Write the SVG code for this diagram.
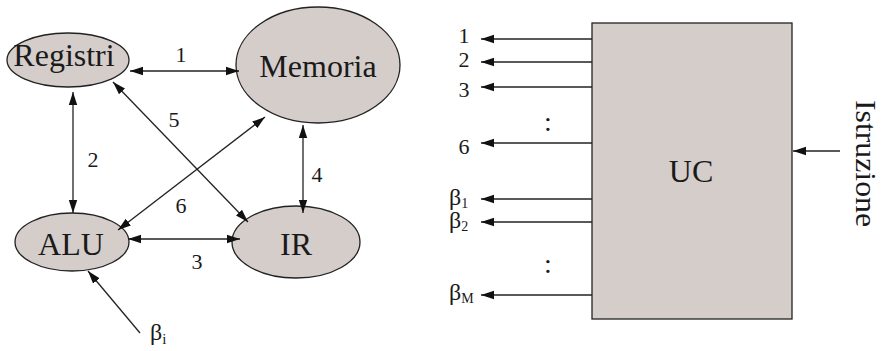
<svg xmlns="http://www.w3.org/2000/svg" width="881" height="351" viewBox="0 0 881 351">
<style>
.n{fill:#d4cdca;stroke:#222;stroke-width:1.3}
text{font-family:'Liberation Serif','Times New Roman',Tinos,Times,serif;fill:#1a1a1a}
.big{font-size:32px}
.lab{font-size:22px}
.c{stroke:#222;stroke-width:1.3;fill:none}
</style>
<defs>
<marker id="a" markerUnits="userSpaceOnUse" markerWidth="14" markerHeight="10" refX="13" refY="5" orient="auto-start-reverse">
<path d="M0,0.8 L13,5 L0,9.2 z" fill="#111"/>
</marker>
</defs>
<rect width="881" height="351" fill="#fff"/>
<g id="registri"><ellipse class="n" cx="68" cy="60" rx="61" ry="27"/><text class="big" x="64" y="66" text-anchor="middle" font-size="29.5" font-family="Liberation Serif, serif">Registri</text></g>
<g id="memoria"><ellipse class="n" cx="318" cy="65" rx="82" ry="58"/><text class="big" x="318" y="77" text-anchor="middle" font-size="31.5" font-family="Liberation Serif, serif">Memoria</text></g>
<g id="alu"><ellipse class="n" cx="72" cy="242" rx="57" ry="29"/><text class="big" x="71" y="255" text-anchor="middle" font-family="Liberation Serif, serif">ALU</text></g>
<g id="ir"><ellipse class="n" cx="296" cy="242" rx="64" ry="36"/><text class="big" x="296" y="255" text-anchor="middle" font-family="Liberation Serif, serif">IR</text></g>
<g id="uc"><rect class="n" x="592" y="23" width="200" height="296"/><text class="big" x="691" y="182" text-anchor="middle" font-family="Liberation Serif, serif">UC</text></g>
<g id="connectors">
<line class="c" x1="130" y1="71" x2="239" y2="71" marker-start="url(#a)" marker-end="url(#a)"/>
<line class="c" x1="73" y1="92" x2="73" y2="213" marker-start="url(#a)" marker-end="url(#a)"/>
<line class="c" x1="128" y1="239" x2="240" y2="239" marker-start="url(#a)" marker-end="url(#a)"/>
<line class="c" x1="303" y1="125" x2="303" y2="213" marker-start="url(#a)" marker-end="url(#a)"/>
<line class="c" x1="113" y1="82" x2="248" y2="222" marker-start="url(#a)" marker-end="url(#a)"/>
<line class="c" x1="118" y1="230" x2="265" y2="117" marker-start="url(#a)" marker-end="url(#a)"/>
<line class="c" x1="140" y1="333" x2="88" y2="271" marker-end="url(#a)"/>
<line class="c" x1="592" y1="39" x2="481" y2="39" marker-end="url(#a)"/>
<line class="c" x1="592" y1="62" x2="481" y2="62" marker-end="url(#a)"/>
<line class="c" x1="592" y1="87" x2="481" y2="87" marker-end="url(#a)"/>
<line class="c" x1="592" y1="143" x2="481" y2="143" marker-end="url(#a)"/>
<line class="c" x1="592" y1="199" x2="481" y2="199" marker-end="url(#a)"/>
<line class="c" x1="592" y1="222" x2="481" y2="222" marker-end="url(#a)"/>
<line class="c" x1="592" y1="295" x2="481" y2="295" marker-end="url(#a)"/>
<line class="c" x1="840" y1="151" x2="793" y2="151" marker-end="url(#a)"/>
</g>
<g id="labels" class="lab" text-anchor="middle" font-family="Liberation Serif, serif">
<text x="181" y="62">1</text>
<text x="93" y="167">2</text>
<text x="197" y="269">3</text>
<text x="317" y="182">4</text>
<text x="174" y="127">5</text>
<text x="181" y="213">6</text>
<text x="464" y="43">1</text>
<text x="464" y="67">2</text>
<text x="464" y="97">3</text>
<text x="464" y="154">6</text>
<text x="548" y="131" font-size="28">:</text>
<text x="548" y="273" font-size="28">:</text>
</g>
<g id="betas" font-size="24" font-family="Liberation Serif, serif">
<text x="150" y="340">β<tspan font-size="15" dy="4">i</tspan></text>
<text x="449" y="205">β<tspan font-size="14" dy="3">1</tspan></text>
<text x="449" y="228">β<tspan font-size="14" dy="3">2</tspan></text>
<text x="449" y="300">β<tspan font-size="14" dy="3">M</tspan></text>
</g>
<text transform="translate(856,163.5) rotate(90)" text-anchor="middle" font-size="29" textLength="127" lengthAdjust="spacingAndGlyphs" font-family="Liberation Serif, serif">Istruzione</text>
</svg>
